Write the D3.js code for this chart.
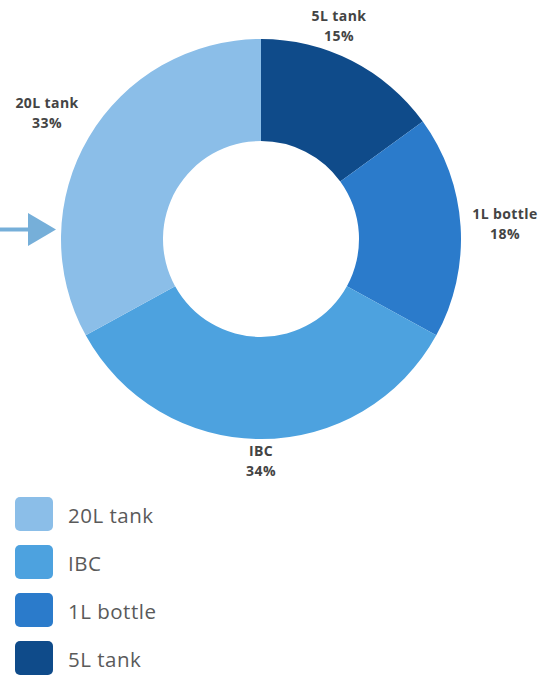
<!DOCTYPE html>
<html>
<head>
<meta charset="utf-8">
<script src="https://cdn.jsdelivr.net/npm/d3@7"></script>
<style>
  body { margin: 0; background: #fff; }
  svg { display: block; }
</style>
</head>
<body>
<svg id="chart" width="547" height="675"></svg>
<script>
// slices clockwise from 12 o'clock
const categories = ["5L tank", "1L bottle", "IBC", "20L tank"];
const shares = [15, 18, 34, 33];
const legendOrder = ["20L tank", "IBC", "1L bottle", "5L tank"];

const colour = d3.scaleOrdinal()
  .domain(categories)
  .range(["#0f4b8a", "#2b7bcb", "#4da2df", "#8bbee8"]);

const svg = d3.select("#chart");
const cx = 261, cy = 239, outer = 200, inner = 98;

const pie = d3.pie().sort(null).value((d) => d.v);
const arcs = pie(categories.map((c, i) => ({ c, v: shares[i] })));
const arc = d3.arc().innerRadius(inner).outerRadius(outer);

const g = svg.append("g").attr("transform", `translate(${cx},${cy})`);
g.selectAll("path")
  .data(arcs)
  .join("path")
  .attr("d", arc)
  .attr("fill", (d) => colour(d.data.c));

// outside labels
const labelPos = {
  "5L tank": [339, 21],
  "1L bottle": [505, 219],
  "IBC": [261, 456],
  "20L tank": [47, 108],
};
const labels = svg.append("g")
  .attr("font-family", "'Open Sans', sans-serif")
  .attr("font-weight", "bold")
  .attr("font-size", 14)
  .attr("letter-spacing", 0.4)
  .attr("fill", "#444")
  .attr("text-anchor", "middle");
arcs.forEach((d) => {
  const [x, y] = labelPos[d.data.c];
  const t = labels.append("text").attr("x", x).attr("y", y);
  t.append("tspan").attr("x", x).text(d.data.c);
  t.append("tspan").attr("x", x).attr("dy", 19.5).text(d.data.v + "%");
});

// arrow pointing at the 20L slice
const arrow = svg.append("g").attr("fill", "#76afd9").attr("stroke", "#76afd9");
arrow.append("line")
  .attr("x1", 0).attr("x2", 32).attr("y1", 229.5).attr("y2", 229.5)
  .attr("stroke-width", 4);
arrow.append("path")
  .attr("stroke", "none")
  .attr("d", "M28,213 L56,229.5 L28,246 Z");

// legend
const legend = svg.append("g");
const rowY = d3.scalePoint().domain(legendOrder).range([497, 641]);
const rows = legend.selectAll("g")
  .data(legendOrder)
  .join("g")
  .attr("transform", (d) => `translate(15,${rowY(d)})`);
rows.append("rect")
  .attr("width", 38).attr("height", 34).attr("rx", 5)
  .attr("fill", (d) => colour(d));
rows.append("text")
  .attr("x", 53).attr("y", 26)
  .attr("font-family", "'Open Sans', sans-serif")
  .attr("font-size", 20.5)
  .attr("letter-spacing", 0.5)
  .attr("fill", "#5a5a5a")
  .text((d) => d);
</script>
</body>
</html>
